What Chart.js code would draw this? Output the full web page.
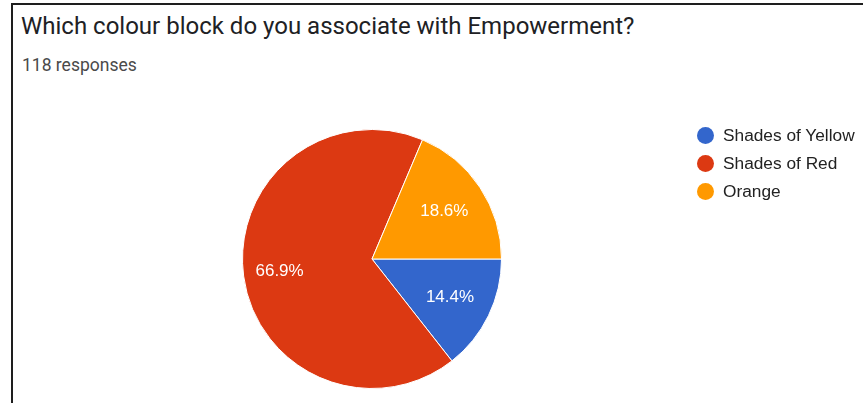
<!DOCTYPE html>
<html lang="en">
<head>
    <meta charset="UTF-8">
    <title>Empowerment colour survey</title>
    <script src="https://cdn.jsdelivr.net/npm/chart.js"></script>
    <style>
        html, body {
            margin: 0;
            padding: 0;
            width: 863px;
            height: 403px;
            overflow: hidden;
            background: #fff;
        }
        .frame {
            position: absolute;
            left: 11px;
            top: 3px;
            width: 860px;
            height: 410px;
            border-left: 2px solid #1e1e1e;
            border-top: 2px solid #1e1e1e;
        }
        .title {
            position: absolute;
            left: 21px;
            top: 12px;
            font-family: Roboto, Arial, sans-serif;
            font-size: 24px;
            color: #202124;
            white-space: nowrap;
        }
        .subtitle {
            position: absolute;
            left: 22px;
            top: 55px;
            font-family: Roboto, Arial, sans-serif;
            font-size: 17.5px;
            color: #4a4a4a;
        }
        #legend {
            position: absolute;
            left: 697px;
            top: 121px;
            font-family: "Liberation Sans", Arial, sans-serif;
            font-size: 17.3px;
            color: #222;
        }
        #legend .item {
            height: 28px;
            display: flex;
            align-items: center;
        }
        #legend .dot {
            width: 17px;
            height: 17px;
            border-radius: 50%;
            margin-right: 9px;
        }
        #chartBox {
            position: absolute;
            left: 0;
            top: 0;
            width: 863px;
            height: 403px;
        }
    </style>
</head>
<body>
    <div class="frame"></div>
    <div class="title">Which colour block do you associate with Empowerment?</div>
    <div class="subtitle">118 responses</div>
    <div id="chartBox"><canvas id="pieChart"></canvas></div>
    <div id="legend"></div>

    <script>
        const answers = ['Shades of Yellow', 'Shades of Red', 'Orange'];
        const shares = [14.4, 66.9, 18.6];
        const sliceColours = ['#3366cc', '#dc3912', '#ff9900'];

        // percentage text written inside each slice
        const sliceLabels = {
            id: 'sliceLabels',
            afterDatasetsDraw(chart) {
                const ctx = chart.ctx;
                const meta = chart.getDatasetMeta(0);
                ctx.save();
                ctx.font = '17px "Liberation Sans", Arial, sans-serif';
                ctx.fillStyle = '#ffffff';
                ctx.textAlign = 'center';
                ctx.textBaseline = 'middle';
                meta.data.forEach((arc, i) => {
                    const mid = (arc.startAngle + arc.endAngle) / 2;
                    const r = arc.outerRadius * (shares[i] > 50 ? 0.72 : 0.67);
                    const x = arc.x + Math.cos(mid) * r;
                    const y = arc.y + Math.sin(mid) * r;
                    ctx.fillText(shares[i].toFixed(1) + '%', x, y);
                });
                ctx.restore();
            }
        };

        new Chart(document.getElementById('pieChart'), {
            type: 'pie',
            data: {
                labels: answers,
                datasets: [{
                    data: shares,
                    backgroundColor: sliceColours,
                    borderColor: '#ffffff',
                    borderWidth: 1
                }]
            },
            options: {
                responsive: true,
                maintainAspectRatio: false,
                animation: false,
                rotation: 90, // first slice starts at 3 o'clock
                layout: {
                    padding: { left: 242, right: 361, top: 129, bottom: 14 }
                },
                plugins: {
                    legend: { display: false },
                    tooltip: { enabled: false }
                }
            },
            plugins: [sliceLabels]
        });

        // legend built from the same arrays
        const legend = document.getElementById('legend');
        answers.forEach((name, i) => {
            const item = document.createElement('div');
            item.className = 'item';
            item.innerHTML = '<span class="dot" style="background:' + sliceColours[i] + '"></span>' + name;
            legend.appendChild(item);
        });
    </script>
</body>
</html>
